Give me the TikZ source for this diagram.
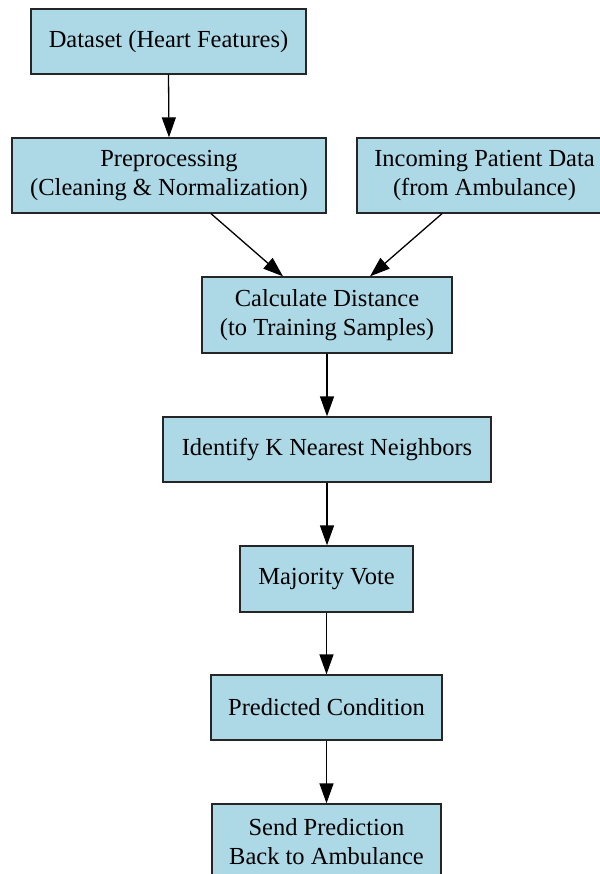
\documentclass[tikz,border=0pt]{standalone}
\usepackage{fontspec}
\setmainfont{Liberation Serif}
\usetikzlibrary{arrows.meta}
\begin{document}
\begin{tikzpicture}[x=1pt,y=-1pt,
  box/.style={draw=black!85,line width=1.3pt,fill={rgb,255:red,173;green,216;blue,230},
    rectangle,inner sep=0pt,align=center,
    font=\fontsize{24.5}{29}\selectfont},
  conn/.style={line width=1.3pt,-{Triangle[length=20pt,width=14pt]}}]
\useasboundingbox (0,0) rectangle (599,874);
\node[box,minimum width=275pt,minimum height=65pt] (data) at (168.5,41.5) {Dataset (Heart Features)};
\node[box,minimum width=314pt,minimum height=75pt] (prep) at (169,175.5) {Preprocessing\\(Cleaning \& Normalization)};
\node[box,minimum width=255pt,minimum height=75pt] (inc) at (484.5,175.5) {Incoming Patient Data\\(from Ambulance)};
\node[box,minimum width=250pt,minimum height=76pt] (calc) at (327,315) {Calculate Distance\\(to Training Samples)};
\node[box,minimum width=328pt,minimum height=65pt] (ident) at (327,449.5) {Identify K Nearest Neighbors};
\node[box,minimum width=173pt,minimum height=66pt] (maj) at (326.5,579) {Majority Vote};
\node[box,minimum width=231pt,minimum height=65pt] (pred) at (326.5,707.5) {Predicted Condition};
\node[box,minimum width=229pt,minimum height=75pt] (send) at (326.5,841.5) {Send Prediction\\Back to Ambulance};
\draw[conn] (data.south) -- (prep.north);
\draw[conn] ([xshift=42pt]prep.south) -- ([xshift=-44pt]calc.north);
\draw[conn] ([xshift=-42.5pt]inc.south) -- ([xshift=43pt]calc.north);
\draw[conn] (calc.south) -- (ident.north);
\draw[conn] (ident.south) -- (ident.south |- maj.north);
\draw[conn] (maj.south) -- (pred.north);
\draw[conn] (pred.south) -- (send.north);
\end{tikzpicture}
\end{document}
